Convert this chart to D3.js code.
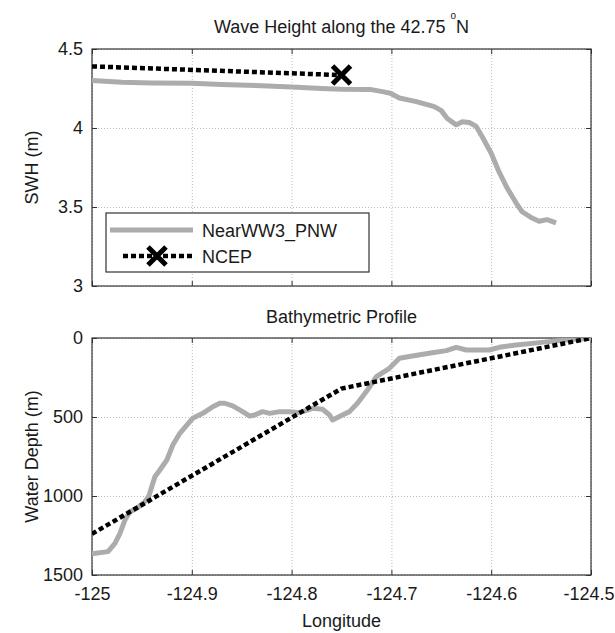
<html>
<meta charset="utf-8">
<script src="https://d3js.org/d3.v7.min.js"></script>
<body style="margin:0;background:#fff">
<div id="chart"></div>
<script>
// tick values
let lonTicks = [-125, -124.9, -124.8, -124.7, -124.6, -124.5]
let swhTicks = [3, 3.5, 4, 4.5]
let depthTicks = [0, 500, 1000, 1500]

// wave height, NearWW3_PNW
let nearLonSwh = [-125, -124.97, -124.94, -124.9, -124.87, -124.83, -124.8, -124.77, -124.75, -124.72, -124.709,
  -124.701, -124.692, -124.675, -124.657, -124.65, -124.644, -124.635, -124.629, -124.622, -124.615,
  -124.609, -124.6, -124.592, -124.584, -124.575, -124.569, -124.559, -124.552, -124.544, -124.535]
let nearSwh = [4.3, 4.29, 4.285, 4.283, 4.275, 4.268, 4.26, 4.25, 4.245, 4.243, 4.23,
  4.22, 4.19, 4.167, 4.135, 4.11, 4.06, 4.02, 4.04, 4.035, 4.01,
  3.945, 3.84, 3.72, 3.62, 3.525, 3.47, 3.43, 3.41, 3.42, 3.4]

// wave height, NCEP
let ncepLonSwh = [-125, -124.75]
let ncepSwh = [4.39, 4.335]

// bathymetry, NearWW3_PNW
let nearLonDepth = [-125, -124.984, -124.977, -124.972, -124.967, -124.962, -124.955, -124.947, -124.943,
  -124.937, -124.932, -124.925, -124.919, -124.912, -124.905, -124.899, -124.889, -124.879, -124.872,
  -124.867, -124.859, -124.849, -124.842, -124.837, -124.829, -124.822, -124.812, -124.802, -124.792,
  -124.779, -124.769, -124.762, -124.759, -124.749, -124.742, -124.734, -124.724, -124.715, -124.702,
  -124.692, -124.679, -124.659, -124.645, -124.635, -124.625, -124.612, -124.602, -124.592, -124.575,
  -124.559, -124.542, -124.525, -124.5]
let nearDepth = [1365, 1352, 1300, 1236, 1152, 1099, 1078, 1036, 1000,
  878, 835, 772, 677, 603, 551, 508, 477, 435, 413,
  413, 430, 466, 494, 487, 466, 477, 466, 466, 473,
  445, 451, 487, 519, 487, 466, 413, 329, 245, 192,
  128, 114, 93, 80, 59, 76, 76, 76, 59, 44,
  34, 23, 13, 2]

// bathymetry, NCEP
let ncepLonDepth = [-125, -124.75, -124.5]
let ncepDepth = [1240, 320, 0]

let width = 615
    height = 633
    left = 92
    plotW = 499
    plotH = 237
    font = "'Liberation Sans', Arial, Helvetica, sans-serif"
    grayLine = "#acacac"
    axisColor = "#333"

let svg = d3.select("#chart")
  .append("svg")
    .attr("width", width)
    .attr("height", height)
    .style("font-family", font)

let x = d3.scaleLinear().domain([-125, -124.5]).range([0, plotW])

function panel(top, yScale, yTicks, showX, id) {
  let g = svg.append("g").attr("transform", "translate(" + left + "," + top + ")")

  g.append("clipPath").attr("id", id)
    .append("rect").attr("width", plotW).attr("height", plotH)

  // grid
  g.append("g")
    .call(d3.axisBottom(x).tickValues(lonTicks).tickSize(plotH).tickFormat(""))
    .call(a => a.select(".domain").remove())
    .selectAll("line").attr("stroke", "#bbb").attr("stroke-dasharray", "1,2")
  g.append("g")
    .call(d3.axisRight(yScale).tickValues(yTicks).tickSize(plotW).tickFormat(""))
    .call(a => a.select(".domain").remove())
    .selectAll("line").attr("stroke", "#bbb").attr("stroke-dasharray", "1,2")

  // inward ticks on all four sides
  let axes = [
    [d3.axisBottom(x).tickValues(lonTicks), "translate(0," + plotH + ")", showX],
    [d3.axisTop(x).tickValues(lonTicks), "translate(0,0)", false],
    [d3.axisLeft(yScale).tickValues(yTicks), "translate(0,0)", true],
    [d3.axisRight(yScale).tickValues(yTicks), "translate(" + plotW + ",0)", false]
  ]
  axes.forEach(function(a, i) {
    let ax = a[0].tickSizeInner(-5).tickSizeOuter(0)
      .tickPadding(i == 0 ? 12 : 9)
      .tickFormat(a[2] ? (d => String(d)) : "")
    let sel = g.append("g").attr("transform", a[1]).call(ax)
    sel.select(".domain").remove()
    sel.selectAll("line").attr("stroke", axisColor)
    sel.selectAll("text").attr("fill", "#1a1a1a").style("font-size", "18px").style("font-family", font)
    // keep the last longitude label inside the page
    if (i == 0) {
      sel.selectAll("text").filter(d => d == -124.5)
        .attr("text-anchor", "end").attr("x", 23)
    }
  })

  g.append("rect")
    .attr("width", plotW).attr("height", plotH)
    .attr("fill", "none").attr("stroke", axisColor).attr("stroke-width", 1.2)

  return g.append("g").attr("clip-path", "url(#" + id + ")")
}

function xMark(g, cx, cy, r) {
  g.append("path")
    .attr("d", "M" + (cx - r) + "," + (cy - r) + "L" + (cx + r) + "," + (cy + r) +
               "M" + (cx - r) + "," + (cy + r) + "L" + (cx + r) + "," + (cy - r))
    .attr("stroke", "black").attr("stroke-width", 5).attr("fill", "none")
}

// ---- top panel: wave height
let ySwh = d3.scaleLinear().domain([3, 4.5]).range([plotH, 0])
let p1 = panel(49, ySwh, swhTicks, false, "clip1")

let lineSwh = d3.line().x(d => x(d[0])).y(d => ySwh(d[1]))
p1.append("path")
  .attr("d", lineSwh(d3.zip(nearLonSwh, nearSwh)))
  .attr("fill", "none").attr("stroke", grayLine).attr("stroke-width", 5)
  .attr("stroke-linejoin", "round")
p1.append("path")
  .attr("d", lineSwh(d3.zip(ncepLonSwh, ncepSwh)))
  .attr("fill", "none").attr("stroke", "black").attr("stroke-width", 4.5)
  .attr("stroke-dasharray", "5,3")
let last = ncepLonSwh.length - 1
xMark(svg.append("g").attr("transform", "translate(" + left + ",49)"),
  x(ncepLonSwh[last]), ySwh(ncepSwh[last]), 9)

// legend
let lg = svg.append("g")
lg.append("rect").attr("x", 106).attr("y", 213).attr("width", 263).attr("height", 59)
  .attr("fill", "white").attr("stroke", axisColor).attr("stroke-width", 1.2)
lg.append("line").attr("x1", 110).attr("x2", 193).attr("y1", 230).attr("y2", 230)
  .attr("stroke", grayLine).attr("stroke-width", 5)
lg.append("line").attr("x1", 123).attr("x2", 193).attr("y1", 256).attr("y2", 256)
  .attr("stroke", "black").attr("stroke-width", 4.5).attr("stroke-dasharray", "5,3")
xMark(lg, 157, 256, 9)
lg.append("text").attr("x", 202).attr("y", 237).text("NearWW3_PNW")
  .style("font-size", "18px").attr("fill", "#1a1a1a")
lg.append("text").attr("x", 202).attr("y", 263).text("NCEP")
  .style("font-size", "18px").attr("fill", "#1a1a1a")

// ---- bottom panel: bathymetry
let yDepth = d3.scaleLinear().domain([0, 1500]).range([0, plotH])
let p2 = panel(338, yDepth, depthTicks, true, "clip2")

let lineDepth = d3.line().x(d => x(d[0])).y(d => yDepth(d[1]))
p2.append("path")
  .attr("d", lineDepth(d3.zip(nearLonDepth, nearDepth)))
  .attr("fill", "none").attr("stroke", grayLine).attr("stroke-width", 5)
  .attr("stroke-linejoin", "round")
p2.append("path")
  .attr("d", lineDepth(d3.zip(ncepLonDepth, ncepDepth)))
  .attr("fill", "none").attr("stroke", "black").attr("stroke-width", 4.5)
  .attr("stroke-dasharray", "5,3")

// titles and labels
let title = svg.append("text")
  .attr("x", left + plotW / 2).attr("y", 33)
  .attr("text-anchor", "middle")
  .style("font-size", "18px").attr("fill", "#1a1a1a")
title.append("tspan").text("Wave Height along the 42.75 ")
title.append("tspan").attr("dy", -14).style("font-size", "10px").text("o")
title.append("tspan").attr("dy", 14).text("N")

svg.append("text")
  .attr("x", left + plotW / 2).attr("y", 323)
  .attr("text-anchor", "middle")
  .style("font-size", "18px").attr("fill", "#1a1a1a")
  .text("Bathymetric Profile")

svg.append("text")
  .attr("x", left + plotW / 2).attr("y", 627)
  .attr("text-anchor", "middle")
  .style("font-size", "18px").attr("fill", "#1a1a1a")
  .text("Longitude")

svg.append("text")
  .attr("transform", "translate(38," + (49 + plotH / 2) + ") rotate(-90)")
  .attr("text-anchor", "middle")
  .style("font-size", "18px").attr("fill", "#1a1a1a")
  .text("SWH (m)")

svg.append("text")
  .attr("transform", "translate(38," + (338 + plotH / 2) + ") rotate(-90)")
  .attr("text-anchor", "middle")
  .style("font-size", "18px").attr("fill", "#1a1a1a")
  .text("Water Depth (m)")
</script>
</body>
</html>
